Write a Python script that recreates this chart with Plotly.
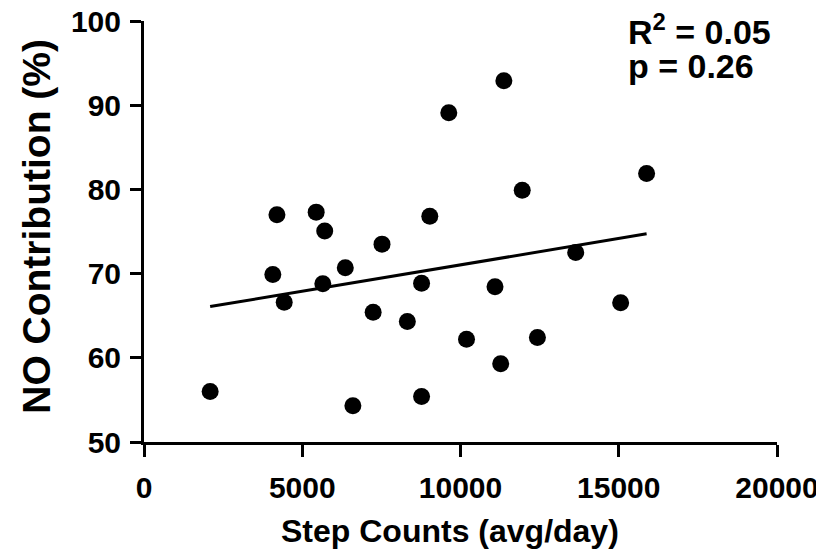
import numpy as np
import plotly.graph_objects as go

step_counts = [2090, 4070, 4200, 4430, 5440, 5650, 5710, 6360, 6600, 7240, 7520, 8320,
               8770, 8770, 9030, 9630, 10190, 11090, 11270, 11370, 11950, 12430, 13640,
               15060, 15880]
no_contribution = [56.0, 69.9, 77.0, 66.6, 77.3, 68.8, 75.05, 70.7, 54.3, 65.4, 73.5, 64.3,
                   68.85, 55.4, 76.8, 89.1, 62.2, 68.45, 59.3, 92.9, 79.9, 62.4, 72.5,
                   66.55, 81.9]
x_ticks = [0, 5000, 10000, 15000, 20000]
y_ticks = [50, 60, 70, 80, 90, 100]
x_title = "Step Counts (avg/day)"
y_title = "NO Contribution (%)"
stats_lines = ["R<sup>2</sup> = 0.05", "p = 0.26"]

x = np.array(step_counts, dtype=float)
y = np.array(no_contribution, dtype=float)
slope, intercept = np.polyfit(x, y, 1)
fit_x = np.array([x.min(), x.max()])
fit_y = slope * fit_x + intercept

FONT = "Liberation Sans, Arial, sans-serif"

fig = go.Figure()
fig.add_trace(go.Scatter(x=fit_x, y=fit_y, mode="lines",
                         line=dict(color="black", width=3), showlegend=False))
fig.add_trace(go.Scatter(x=step_counts, y=no_contribution, mode="markers",
                         marker=dict(color="black", size=17, line=dict(width=0)),
                         showlegend=False))

# page body has an 8px default margin; margins compensate for it
fig.update_layout(
    width=824, height=556,
    margin=dict(l=136, r=55, t=13, b=122),
    plot_bgcolor="white", paper_bgcolor="white",
    font=dict(family=FONT, color="black"),
)
fig.update_xaxes(
    range=[0, 20000], tickvals=x_ticks, ticktext=[str(v) for v in x_ticks],
    automargin=False, ticklabeloverflow="allow",
    showgrid=False, zeroline=False, showline=True, linecolor="black", linewidth=3,
    ticks="outside", ticklen=12, tickwidth=3, tickcolor="black", ticklabelstandoff=5,
    tickfont=dict(size=30, family=FONT, weight="bold"),
)
fig.update_yaxes(
    range=[50, 100], tickvals=y_ticks, ticktext=[str(v) for v in y_ticks],
    automargin=False, ticklabeloverflow="allow",
    showgrid=False, zeroline=False, showline=True, linecolor="black", linewidth=3,
    ticks="outside", ticklen=11, tickwidth=3, tickcolor="black", ticklabelstandoff=3,
    tickfont=dict(size=30, family=FONT, weight="bold"),
)
fig.add_annotation(xref="paper", yref="paper", x=0.484, y=-0.211, xanchor="center",
                   yanchor="middle", text=x_title, showarrow=False,
                   font=dict(size=32, family=FONT, weight="bold", color="black"))
fig.add_annotation(xref="paper", yref="paper", x=-0.171, y=0.513, xanchor="center",
                   yanchor="middle", text=y_title, textangle=-90, showarrow=False,
                   font=dict(size=39, family=FONT, weight="bold", color="black"))
fig.add_annotation(xref="paper", yref="paper", x=0.762, y=1.036, xanchor="left", yanchor="top",
                   text=stats_lines[0], showarrow=False,
                   font=dict(size=34, family=FONT, weight="bold", color="black"))
fig.add_annotation(xref="paper", yref="paper", x=0.762, y=0.943, xanchor="left", yanchor="top",
                   text=stats_lines[1], showarrow=False,
                   font=dict(size=34, family=FONT, weight="bold", color="black"))

fig.write_html("out.html")
